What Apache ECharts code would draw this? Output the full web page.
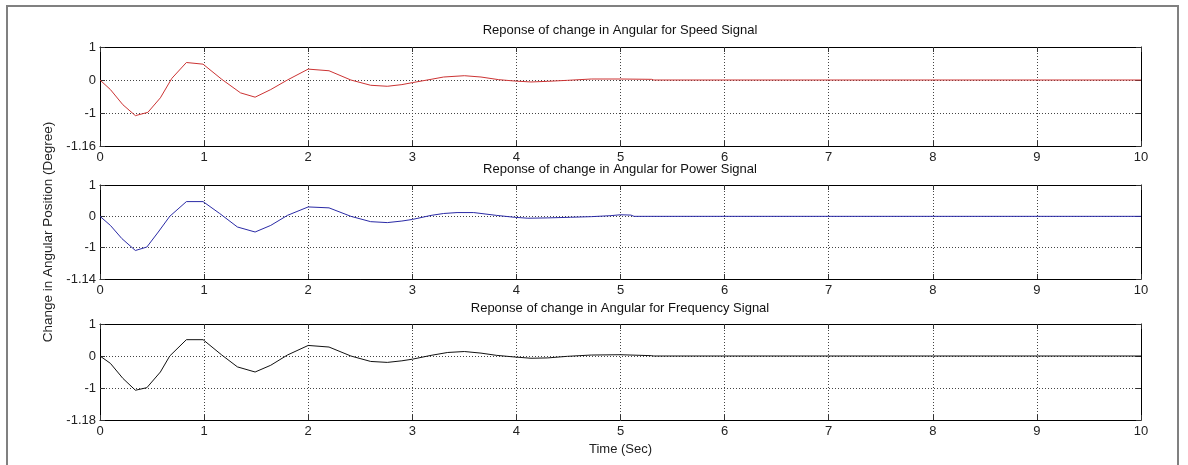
<!DOCTYPE html>
<html><head><meta charset="utf-8">
<script src="https://cdn.jsdelivr.net/npm/echarts@6/dist/echarts.min.js"></script>
<style>html,body{margin:0;padding:0;background:#fff}#c{width:1188px;height:465px}</style>
</head><body><div id="c"></div>
<script>
// ---- data ----
const panelTitles = [
  'Reponse of change in Angular for Speed Signal',
  'Reponse of change in Angular for Power Signal',
  'Reponse of change in Angular for Frequency Signal'
];
const yLabel = 'Change in Angular Position (Degree)';
const xLabel = 'Time (Sec)';
const yTickValues = [-2, -1, 0, 1];
const yTickLabelsSpeed = ['-1.16', '-1', '0', '1'];
const yTickLabelsPower = ['-1.14', '-1', '0', '1'];
const yTickLabelsFreq = ['-1.18', '-1', '0', '1'];

const speedT = [0, 0.1, 0.22, 0.34, 0.46, 0.58, 0.69, 0.83, 0.99, 1.17, 1.35, 1.49, 1.64, 1.80, 2.0, 2.2, 2.41, 2.6, 2.76, 2.9, 3.0, 3.18, 3.3, 3.5, 3.66, 3.83, 3.98, 4.14, 4.3, 4.49, 4.72, 5.0, 5.3, 5.32, 10];
const speedV = [0, -0.29, -0.75, -1.08, -0.98, -0.54, 0.05, 0.53, 0.48, 0.02, -0.39, -0.52, -0.29, 0, 0.33, 0.28, 0, -0.16, -0.19, -0.14, -0.08, 0.02, 0.09, 0.13, 0.09, 0.01, -0.03, -0.06, -0.04, -0.01, 0.03, 0.03, 0.02, 0, 0];

const powerT = [0, 0.1, 0.21, 0.34, 0.45, 0.56, 0.67, 0.83, 0.99, 1.15, 1.32, 1.49, 1.64, 1.80, 2.0, 2.2, 2.41, 2.6, 2.76, 2.9, 3.0, 3.18, 3.3, 3.43, 3.59, 3.81, 3.98, 4.11, 4.3, 4.52, 4.72, 4.9, 5.0, 5.1, 5.13, 10];
const powerV = [0, -0.29, -0.71, -1.09, -0.98, -0.5, 0, 0.47, 0.47, 0.09, -0.34, -0.5, -0.29, 0.03, 0.3, 0.27, 0, -0.17, -0.2, -0.15, -0.1, 0.03, 0.09, 0.12, 0.12, 0.03, -0.03, -0.06, -0.05, -0.03, -0.01, 0.02, 0.05, 0.04, 0, 0];

const freqT = [0, 0.1, 0.22, 0.34, 0.45, 0.58, 0.67, 0.83, 0.99, 1.17, 1.32, 1.49, 1.64, 1.80, 2.0, 2.2, 2.41, 2.6, 2.76, 2.9, 3.0, 3.18, 3.34, 3.5, 3.66, 3.81, 3.98, 4.14, 4.3, 4.49, 4.72, 5.0, 5.3, 5.32, 10];
const freqV = [0, -0.23, -0.7, -1.07, -0.99, -0.5, 0, 0.51, 0.51, 0.03, -0.34, -0.5, -0.29, 0.03, 0.33, 0.28, 0, -0.17, -0.2, -0.15, -0.1, 0.02, 0.11, 0.14, 0.09, 0.02, -0.03, -0.07, -0.06, -0.01, 0.03, 0.04, 0.01, 0, 0];

// ---- chart ----
const FONT = 'Liberation Sans, Arial, sans-serif';
const panels = [
  {t: speedT, v: speedV, labels: yTickLabelsSpeed, color: '#cc3333', top: 47, height: 99, titleTop: 24},
  {t: powerT, v: powerV, labels: yTickLabelsPower, color: '#2a2aa6', top: 185, height: 94, titleTop: 163},
  {t: freqT, v: freqV, labels: yTickLabelsFreq, color: '#111111', top: 324, height: 96, titleTop: 302}
];
const grids = [], xAxes = [], yAxes = [], series = [], titles = [];
const dotted = {type: [1, 2], color: '#444', width: 1};
const tick = {show: true, inside: true, length: 5, lineStyle: {color: '#333', width: 1}};
const axLine = {show: true, onZero: false, lineStyle: {color: '#000', width: 1}};
panels.forEach((p, i) => {
  grids.push({left: 100, right: 47, top: p.top, height: p.height, show: false});
  titles.push({text: panelTitles[i], left: 620, textAlign: 'center', top: p.titleTop, padding: 0,
    textStyle: {fontSize: 13, fontWeight: 'normal', color: '#111', fontFamily: FONT}});
  xAxes.push({type: 'value', gridIndex: i, position: 'bottom', min: 0, max: 10, interval: 1,
    axisLine: axLine, axisTick: tick,
    axisLabel: {fontSize: 13, color: '#222', margin: 5, fontFamily: FONT},
    splitLine: {show: true, lineStyle: dotted},
    name: i === 2 ? xLabel : '', nameLocation: 'middle', nameGap: 23,
    nameTextStyle: {fontSize: 13, color: '#222', fontFamily: FONT}});
  xAxes.push({type: 'value', gridIndex: i, position: 'top', min: 0, max: 10, interval: 1,
    axisLine: axLine, axisTick: tick, axisLabel: {show: false}, splitLine: {show: false}});
  const labs = p.labels;
  yAxes.push({type: 'value', gridIndex: i, position: 'left', min: -2, max: 1, interval: 1,
    axisLine: axLine, axisTick: tick,
    axisLabel: {fontSize: 13, color: '#222', margin: 4, fontFamily: FONT,
      formatter: v => { const k = yTickValues.indexOf(v); return k >= 0 ? labs[k] : ''; }},
    splitLine: {show: true, lineStyle: dotted},
    name: i === 1 ? yLabel : '', nameLocation: 'middle', nameGap: 38,
    nameTextStyle: {fontSize: 13.5, color: '#222', fontFamily: FONT}});
  yAxes.push({type: 'value', gridIndex: i, position: 'right', min: -2, max: 1, interval: 1,
    axisLine: axLine, axisTick: tick, axisLabel: {show: false}, splitLine: {show: false}});
  series.push({type: 'line', xAxisIndex: 2 * i, yAxisIndex: 2 * i, showSymbol: false, symbol: 'none',
    data: p.t.map((t, k) => [t, p.v[k]]), lineStyle: {color: p.color, width: 1}, z: 5});
});

const chart = echarts.init(document.getElementById('c'), null, {renderer: 'canvas'});
chart.setOption({
  animation: false,
  backgroundColor: '#fff',
  title: titles,
  grid: grids,
  xAxis: xAxes,
  yAxis: yAxes,
  series: series,
  graphic: [{type: 'polyline', silent: true, z: 100,
    shape: {points: [[7, 466], [7, 6], [1178, 6], [1178, 466]]},
    style: {stroke: '#808080', lineWidth: 2, fill: null}}]
});
</script>
</body></html>
